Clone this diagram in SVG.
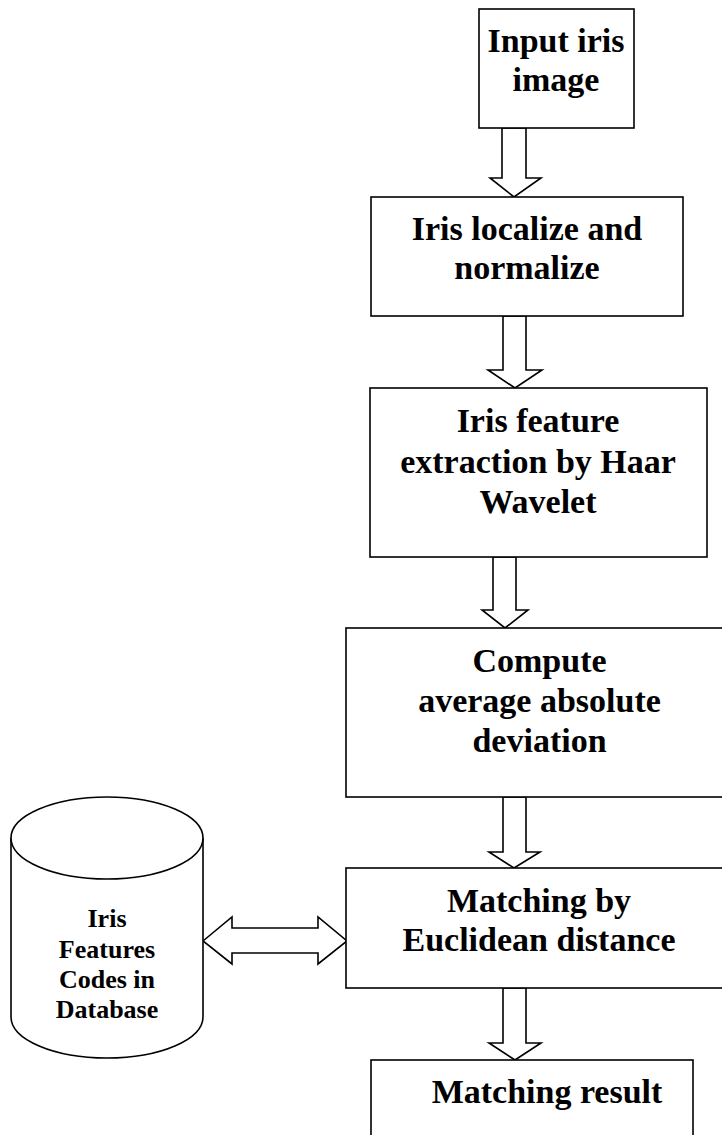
<svg xmlns="http://www.w3.org/2000/svg" width="722" height="1135" viewBox="0 0 722 1135">
<style>
.box{fill:#fff;stroke:#000;stroke-width:1.6}
.arr{fill:#fff;stroke:#000;stroke-width:1.6;stroke-linejoin:miter}
.t{font-family:"Liberation Serif","Times New Roman",serif;font-weight:bold;font-size:34px;text-anchor:middle;fill:#000}
.s{font-family:"Liberation Serif","Times New Roman",serif;font-weight:bold;font-size:26px;text-anchor:middle;fill:#000}
</style>
<rect width="722" height="1135" fill="#fff"/>
<g id="connectors">
<polygon class="arr" points="502,128 526,128 526,178 541,178 514,197 490,178 502,178"/>
<polygon class="arr" points="503,316 526,316 526,370 542,370 515,388 488,370 503,370"/>
<polygon class="arr" points="493,557 516,557 516,610 528,610 505,628 482,610 493,610"/>
<polygon class="arr" points="503,797 526,797 526,852 540,852 514,868 489,852 503,852"/>
<polygon class="arr" points="503,988 526,988 526,1043 541,1043 515,1060 489,1043 503,1043"/>
<polygon class="arr" points="203,941 232,917 232,928 318,928 318,917 347,941 318,964 318,953 232,953 232,964"/>
</g>
<g id="n1">
<rect class="box" x="479" y="9" width="155" height="119"/>
<text class="t" x="556" y="52">Input iris</text>
<text class="t" x="556" y="91">image</text>
</g>
<g id="n2">
<rect class="box" x="371" y="197" width="312" height="119"/>
<text class="t" x="527" y="240">Iris localize and</text>
<text class="t" x="527" y="279">normalize</text>
</g>
<g id="n3">
<rect class="box" x="370" y="388" width="337" height="169"/>
<text class="t" x="538" y="432">Iris feature</text>
<text class="t" x="538" y="473">extraction by Haar</text>
<text class="t" x="538" y="513">Wavelet</text>
</g>
<g id="n4">
<rect class="box" x="346" y="628" width="390" height="169"/>
<text class="t" x="539.5" y="672">Compute</text>
<text class="t" x="539.5" y="712">average absolute</text>
<text class="t" x="539.5" y="752">deviation</text>
</g>
<g id="n5">
<rect class="box" x="346" y="868" width="390" height="120"/>
<text class="t" x="539" y="912">Matching by</text>
<text class="t" x="539" y="951">Euclidean distance</text>
</g>
<g id="n6">
<rect class="box" x="371" y="1060" width="322" height="100"/>
<text class="t" x="547" y="1103">Matching result</text>
</g>
<g id="db">
<path class="box" d="M11,838 L11,1017 A96,41 0 0 0 203,1017 L203,838"/>
<ellipse class="box" cx="107" cy="838" rx="96" ry="41"/>
<text class="s" x="107" y="927">Iris</text>
<text class="s" x="107" y="958">Features</text>
<text class="s" x="107" y="988">Codes in</text>
<text class="s" x="107" y="1018">Database</text>
</g>
</svg>
